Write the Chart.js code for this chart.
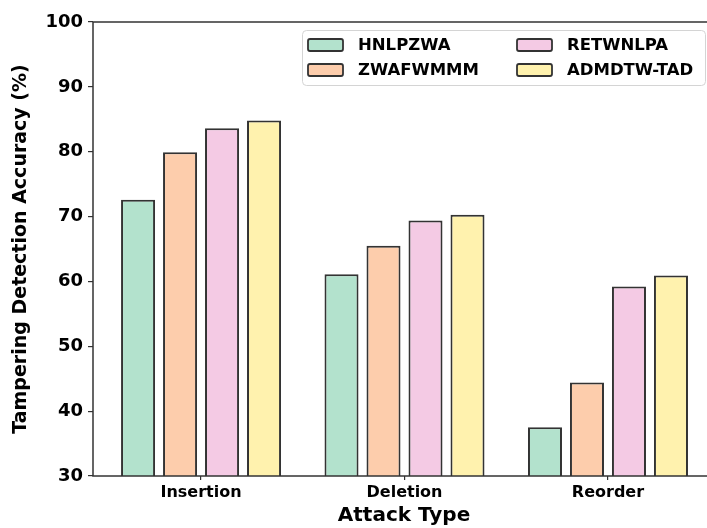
<!DOCTYPE html>
<html>
<head>
<meta charset="utf-8">
<script src="https://cdn.jsdelivr.net/npm/chart.js@4.4.0/dist/chart.umd.min.js"></script>
<style>
  html, body { margin: 0; padding: 0; background: #fff; overflow: hidden; }
  #wrap { width: 720px; height: 528px; }
</style>
</head>
<body>
<div id="wrap"><canvas id="chart" width="720" height="528"></canvas></div>
<script>
(function () {
    'use strict';

    const categories = ["Insertion", "Deletion", "Reorder"];
    const seriesNames = ["HNLPZWA", "ZWAFWMMM", "RETWNLPA", "ADMDTW-TAD"];
    const hnlpzwa = [72.6, 61.1, 37.5];
    const zwafwmmm = [79.9, 65.5, 44.4];
    const retwnlpa = [83.6, 69.4, 59.2];
    const admdtwTad = [84.8, 70.3, 60.9];
    const yTicks = [30, 40, 50, 60, 70, 80, 90, 100];

    const colors = ["#b3e2cd", "#fdcdac", "#f4cae4", "#fff2ae"];
    const edge = "#333333";
    const font = "'DejaVu Sans', 'Liberation Sans', sans-serif";

    const allSeries = [hnlpzwa, zwafwmmm, retwnlpa, admdtwTad];

    // frame around the plot area (matplotlib style box)
    const framePlugin = {
        id: "frame",
        afterDatasetsDraw(chart) {
            const { ctx, chartArea: a } = chart;
            ctx.save();
            ctx.strokeStyle = edge;
            ctx.lineWidth = 1.5;
            ctx.strokeRect(a.left, a.top, a.right - a.left, a.bottom - a.top);
            ctx.restore();
        }
    };

    // two-column legend with box, column-major like matplotlib ncol=2
    const legendPlugin = {
        id: "boxLegend",
        afterDraw(chart) {
            const { ctx } = chart;
            const ds = chart.data.datasets;
            const bx = 302, by = 30, bw = 403, bh = 55;
            ctx.save();
            ctx.fillStyle = "rgba(255,255,255,0.85)";
            ctx.strokeStyle = "#d4d4d4";
            ctx.lineWidth = 1;
            ctx.beginPath();
            ctx.roundRect(bx + 0.5, by + 0.5, bw, bh, 4);
            ctx.fill();
            ctx.stroke();

            ctx.font = "bold 16.5px " + font;
            ctx.textBaseline = "middle";
            ctx.textAlign = "left";
            ds.forEach((d, i) => {
                const col = Math.floor(i / 2);
                const row = i % 2;
                const sx = col === 0 ? 308 : 517;
                const sy = row === 0 ? 45 : 70;
                ctx.fillStyle = d.backgroundColor;
                ctx.strokeStyle = edge;
                ctx.lineWidth = 1.8;
                ctx.beginPath();
                ctx.roundRect(sx, sy - 6, 35, 12, 2);
                ctx.fill();
                ctx.stroke();
                ctx.fillStyle = "#000";
                ctx.fillText(d.label, sx + 50, sy + 1);
            });
            ctx.restore();
        }
    };

    const datasets = seriesNames.map((name, i) => ({
        label: name,
        data: allSeries[i].map((v, k) => ({ x: k, y: v })),
        backgroundColor: colors[i],
        borderColor: edge,
        borderWidth: 2,
        categoryPercentage: 0.8256,
        barPercentage: 0.81
    }));

    new Chart(document.getElementById("chart"), {
        type: "bar",
        data: { datasets },
        plugins: [framePlugin, legendPlugin],
        options: {
            responsive: false,
            animation: false,
            layout: { padding: { top: 22, right: 5, bottom: 0, left: 0 } },
            plugins: {
                legend: { display: false },
                tooltip: { enabled: false }
            },
            scales: {
                x: {
                    type: "linear",
                    min: -0.531,
                    max: 2.526,
                    offset: false,
                    afterBuildTicks: scale => { scale.ticks = categories.map((c, k) => ({ value: k })); },
                    afterFit: scale => { scale.height = 52; },
                    border: { display: false },
                    grid: { offset: false, drawOnChartArea: false, drawTicks: true, tickLength: 4, color: edge, lineWidth: 1.2 },
                    ticks: {
                        callback: v => categories[v],
                        color: "#000",
                        padding: 3,
                        maxRotation: 0,
                        font: { family: font, size: 16, weight: "bold" }
                    },
                    title: {
                        display: true,
                        text: "Attack Type",
                        color: "#000",
                        padding: { top: 0, bottom: 0 },
                        font: { family: font, size: 20, weight: "bold" }
                    }
                },
                y: {
                    min: 30,
                    max: 100,
                    afterBuildTicks: scale => { scale.ticks = yTicks.map(v => ({ value: v })); },
                    afterFit: scale => { scale.width = 93; },
                    border: { display: false },
                    grid: { drawOnChartArea: false, drawTicks: true, tickLength: 5, color: edge, lineWidth: 1.2 },
                    ticks: {
                        color: "#000",
                        padding: 5,
                        font: { family: font, size: 18, weight: "bold" }
                    },
                    title: {
                        display: true,
                        text: "Tampering Detection Accuracy (%)",
                        color: "#000",
                        padding: { top: 10, bottom: 0 },
                        font: { family: font, size: 19, weight: "bold" }
                    }
                }
            }
        }
    });
})();
</script>
</body>
</html>
